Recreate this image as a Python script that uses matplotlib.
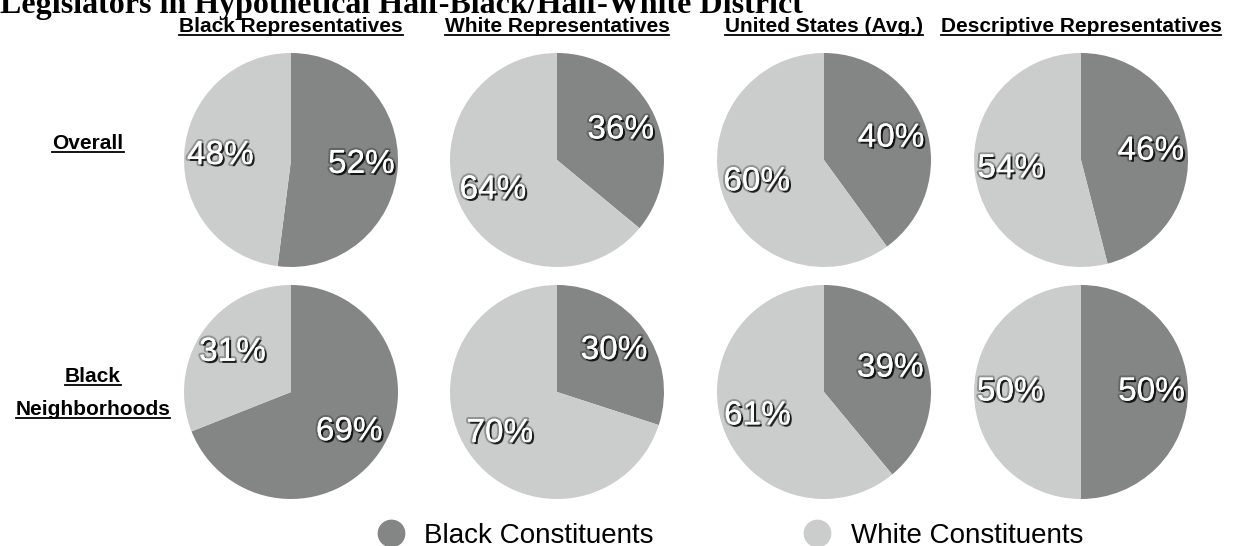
import matplotlib
matplotlib.use("Agg")
import matplotlib.pyplot as plt
import matplotlib.patheffects as pe
from matplotlib.lines import Line2D

# data
columns = ["Black Representatives", "White Representatives",
           "United States (Avg.)", "Descriptive Representatives"]
rows = ["Overall", "Black\nNeighborhoods"]
black_overall = [52, 36, 40, 46]
black_neigh = [69, 30, 39, 50]
white_overall = [48, 64, 60, 54]
white_neigh = [31, 70, 61, 50]
series_names = ["Black Constituents", "White Constituents"]

dark = "#848685"
light = "#cbcdcc"
sans = "Liberation Sans"

W, H = 1243, 546
fig = plt.figure(figsize=(W / 100, H / 100), dpi=100)

col_x = [291, 557, 824, 1081]   # pie centres, px
row_y = [160, 392]
rad = 107

shadow = [pe.Stroke(linewidth=3, foreground="#2a2a2a", alpha=0.35),
          pe.withSimplePatchShadow(offset=(1.5, -1.5), shadow_rgbFace="black", alpha=0.8),
          pe.Normal()]

black_vals = [black_overall, black_neigh]
white_vals = [white_overall, white_neigh]
for r in range(2):
    for c in range(4):
        ax = fig.add_axes([(col_x[c] - rad) / W, 1 - (row_y[r] + rad) / H,
                           2 * rad / W, 2 * rad / H])
        vals = [black_vals[r][c], white_vals[r][c]]
        wedges, texts, autotexts = ax.pie(
            vals, colors=[dark, light], startangle=90, counterclock=False,
            autopct="%d%%", pctdistance=0.66, radius=1,
            textprops=dict(color="white", fontsize=24, family=sans))
        for t in autotexts:
            t.set_path_effects(shadow)
        ax.set_xlim(-1, 1)
        ax.set_ylim(-1, 1)
        ax.set_aspect("auto")

# title (cut off at the top in the original)
fig.text(0.0, 1 - 13 / H, "Legislators in Hypothetical Half-Black/Half-White District",
         family="Liberation Serif", weight="bold", fontsize=23, va="baseline", ha="left")

underlined = []
for c, name in enumerate(columns):
    t = fig.text(col_x[c] / W, 1 - 32 / H, name, family=sans, weight="bold",
                 fontsize=15, ha="center", va="baseline")
    underlined.append(t)

t = fig.text(88 / W, 1 - 149 / H, "Overall", family=sans, weight="bold",
             fontsize=15, ha="center", va="baseline")
underlined.append(t)
for i, word in enumerate(rows[1].split("\n")):
    t = fig.text(93 / W, 1 - (382 + 33 * i) / H, word, family=sans, weight="bold",
                 fontsize=15, ha="center", va="baseline")
    underlined.append(t)

# underline the header texts
fig.canvas.draw()
rend = fig.canvas.get_renderer()
for t in underlined:
    bb = t.get_window_extent(rend)
    x0, x1 = bb.x0 / W, bb.x1 / W
    yb = t.get_position()[1] - 3 / H
    fig.add_artist(Line2D([x0, x1], [yb, yb], color="black", lw=1.3,
                          transform=fig.transFigure))

handles = [Line2D([], [], ls="", marker="o", ms=19, color=dark),
           Line2D([], [], ls="", marker="o", ms=19, color=light)]
fig.legend(handles, series_names, loc="center", bbox_to_anchor=(730 / W, 1 - 536 / H),
           ncol=2, frameon=False, prop=dict(family=sans, size=20),
           handlelength=1.0, handletextpad=0.7, columnspacing=5.4, borderpad=0)

fig.savefig("out.png", dpi=100)
